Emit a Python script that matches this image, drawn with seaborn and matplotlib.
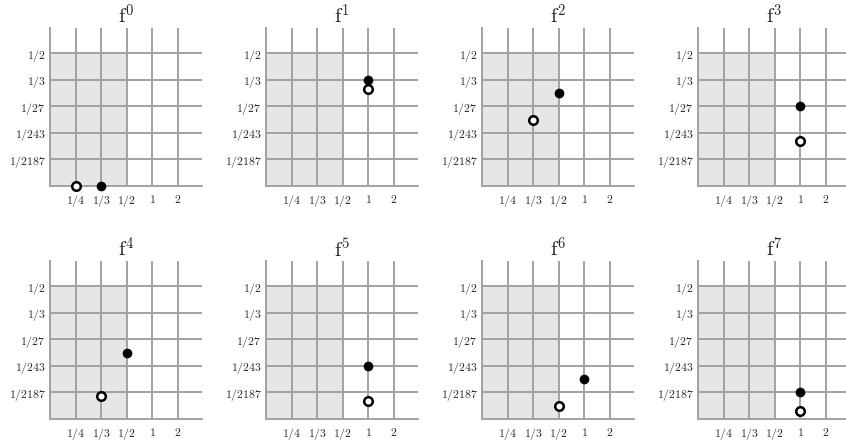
import matplotlib
matplotlib.use("Agg")
import matplotlib.pyplot as plt
import seaborn as sns
import pandas as pd

# Axis categories (grid positions 1..5 on each axis)
x_labels = ["1/4", "1/3", "1/2", "1", "2"]
y_labels = ["1/2187", "1/243", "1/27", "1/3", "1/2"]

# Iterates f^0 .. f^7: filled point and open point, in grid units
filled_x = [2, 4, 3.0, 4, 3.0, 4, 4, 4]
filled_y = [0, 4, 3.5, 3, 2.5, 2, 1.5, 1]
open_x = [1, 4, 2.0, 4, 2.0, 4, 3, 4]
open_y = [0, 3.65, 2.5, 1.7, 0.85, 0.68, 0.5, 0.32]

sns.set_style("white")
plt.rcParams["mathtext.fontset"] = "cm"
plt.rcParams["font.family"] = ["DejaVu Serif"]

fig = plt.figure(figsize=(8.46, 4.48), dpi=100)
W, H = 846, 448
lefts = [50, 266, 482, 698]
rows = [(28, 186), (261, 419)]
grid_color = "#a2a2a2"

for k in range(8):
    r, c = divmod(k, 4)
    top, bot = rows[r]
    ax = fig.add_axes([lefts[c] / W, 1 - bot / H, 152 / W, (bot - top) / H])
    ax.set_xlim(0, 5.95)
    ax.set_ylim(0, 5.95)
    # shaded region left of 1/2 and below 1/2
    ax.fill_between([0, 3], 0, 5, color="#e6e6e9", lw=0, zorder=0)
    ax.set_xticks(range(1, 6))
    ax.set_yticks(range(1, 6))
    ax.set_xticklabels([f"${s}$" for s in x_labels], fontsize=8.5)
    ax.set_yticklabels([f"${s}$" for s in y_labels], fontsize=8.5)
    ax.tick_params(axis="x", length=0, pad=5)
    ax.tick_params(axis="y", length=0, pad=3)
    ax.grid(True, color=grid_color, lw=1.4, zorder=1)
    ax.set_axisbelow(True)
    for s in ("top", "right"):
        ax.spines[s].set_visible(False)
    for s in ("left", "bottom"):
        ax.spines[s].set_color(grid_color)
        ax.spines[s].set_linewidth(1.4)

    df_f = pd.DataFrame({"x": [filled_x[k]], "y": [filled_y[k]]})
    df_o = pd.DataFrame({"x": [open_x[k]], "y": [open_y[k]]})
    sns.scatterplot(data=df_f, x="x", y="y", ax=ax, s=42, color="black",
                    edgecolor="black", linewidth=0.5, zorder=5, clip_on=False)
    sns.scatterplot(data=df_o, x="x", y="y", ax=ax, s=38, color="white",
                    edgecolor="black", linewidth=1.8, zorder=5, clip_on=False)
    ax.set_xlabel("")
    ax.set_ylabel("")
    ax.set_title(r"$\mathrm{f}^{%d}$" % k, fontsize=15, pad=3)

fig.savefig("out.png", dpi=100)
